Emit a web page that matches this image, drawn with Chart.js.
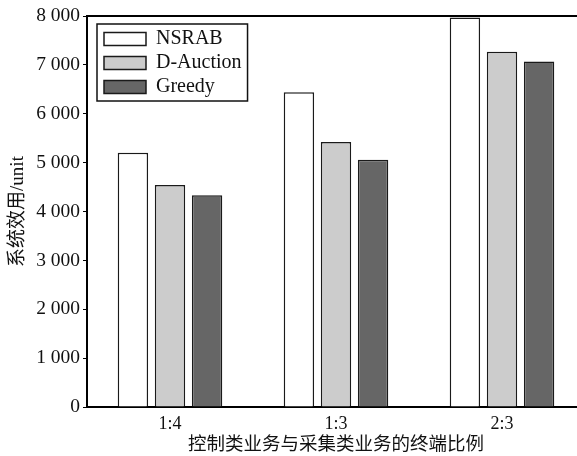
<!DOCTYPE html>
<html>
<head>
<meta charset="utf-8">
<script src="https://cdn.jsdelivr.net/npm/chart.js@4"></script>
<style>
  html, body { margin: 0; padding: 0; background: #fff; overflow: hidden; }
  #wrap { position: relative; width: 600px; height: 456px; }
</style>
</head>
<body>
<div id="wrap"><canvas id="utilityChart"></canvas></div>
<script>
// 终端比例 (类别)
const ratios = ['1:4', '1:3', '2:3'];

// 各算法的系统效用
const nsrabValues = [5200, 6440, 7970];
const dAuctionValues = [4540, 5420, 7270];
const greedyValues = [4330, 5060, 7070];

// y 轴刻度
const yMin = 0;
const yMax = 8000;
const yStep = 1000;

const serif = '"Liberation Serif", "Noto Sans CJK SC", serif';

// 千位用空格分隔, 例如 8 000
function formatTick(v) {
    return String(v).replace(/\B(?=(\d{3})+(?!\d))/g, ' ');
}

// 把图例挪到绘图区左上角并加外框
const legendFrame = {
    id: 'legendFrame',
    afterLayout(chart) {
        const lg = chart.legend;
        lg.left = chart.chartArea.left + 13;
        lg.top = chart.chartArea.top + 9;
    },
    afterDraw(chart) {
        const boxes = chart.legend.legendHitBoxes;
        if (!boxes || !boxes.length) return;
        let l = Infinity, t = Infinity, r = -Infinity, b = -Infinity;
        boxes.forEach(h => {
            l = Math.min(l, h.left);
            t = Math.min(t, h.top);
            r = Math.max(r, h.left + h.width);
            b = Math.max(b, h.top + h.height);
        });
        const ctx = chart.ctx;
        ctx.save();
        ctx.strokeStyle = '#111';
        ctx.lineWidth = 1.5;
        ctx.strokeRect(l - 7, t - 5, (r - l) + 13, (b - t) + 9);
        ctx.restore();
    }
};

const barBorder = '#1a1a1a';

new Chart(document.getElementById('utilityChart'), {
    type: 'bar',
    data: {
        labels: ratios,
        datasets: [
            { label: 'NSRAB', data: nsrabValues, backgroundColor: '#ffffff', borderColor: barBorder, borderWidth: 1.5 },
            { label: 'D-Auction', data: dAuctionValues, backgroundColor: '#cccccc', borderColor: barBorder, borderWidth: 1.5 },
            { label: 'Greedy', data: greedyValues, backgroundColor: '#666666', borderColor: barBorder, borderWidth: 1.5 }
        ]
    },
    options: {
        responsive: true,
        maintainAspectRatio: false,
        animation: false,
        layout: { padding: { left: 0, right: 15, top: 0, bottom: 0 } },
        datasets: {
            bar: { categoryPercentage: 0.67, barPercentage: 0.82, borderSkipped: 'start' }
        },
        plugins: {
            legend: {
                position: 'chartArea',
                align: 'start',
                labels: {
                    boxWidth: 42,
                    boxHeight: 13,
                    padding: 4,
                    color: '#111',
                    font: { family: serif, size: 20 }
                }
            },
            tooltip: { enabled: false }
        },
        scales: {
            x: {
                position: 'bottom',
                afterFit: s => { s.height = 49; },
                grid: { display: false, drawTicks: false },
                border: { display: true, color: '#000', width: 2 },
                ticks: { color: '#111', padding: 6, font: { family: serif, size: 18 } },
                title: {
                    display: true,
                    text: '控制类业务与采集类业务的终端比例',
                    color: '#111',
                    padding: { top: 0, bottom: 0 },
                    font: { family: serif, size: 18.5 }
                }
            },
            x2: {
                type: 'category',
                position: 'top',
                afterFit: s => { s.height = 16; },
                grid: { display: false, drawTicks: false },
                border: { display: true, color: '#000', width: 2 },
                ticks: { display: false }
            },
            y: {
                min: yMin,
                max: yMax,
                afterFit: s => { s.width = 87; },
                grid: { drawOnChartArea: false, tickLength: 4, color: '#000', lineWidth: 1 },
                border: { display: true, color: '#000', width: 2 },
                ticks: {
                    stepSize: yStep,
                    color: '#111',
                    padding: 3,
                    font: { family: serif, size: 19.5 },
                    callback: v => formatTick(v)
                },
                title: {
                    display: true,
                    text: '系统效用/unit',
                    color: '#111',
                    padding: { top: 7, bottom: 0 },
                    font: { family: serif, size: 19 }
                }
            }
        }
    },
    plugins: [legendFrame]
});
</script>
</body>
</html>
